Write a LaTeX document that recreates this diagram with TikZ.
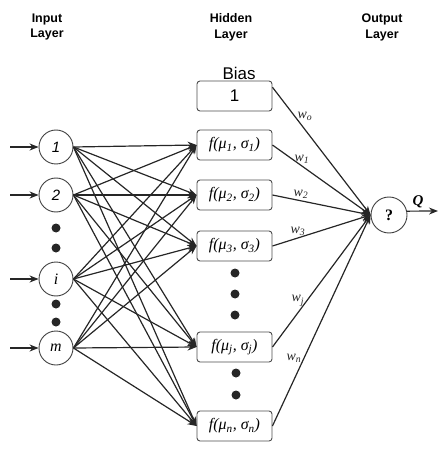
\documentclass[tikz,border=0pt]{standalone}
\usepackage{fontspec}
\setmainfont{Liberation Serif}
\setsansfont{Liberation Sans}
\usetikzlibrary{arrows.meta}
\usetikzlibrary{positioning}
\tikzstyle{inputvertex}=[circle,draw=black!75,line width=0.9bp,minimum size=34bp,inner sep=0pt]
\tikzstyle{outputvertex}=[circle,draw=black!75,line width=0.9bp,minimum size=36bp,inner sep=0pt]
\tikzstyle{hiddenbox}=[rectangle,rounded corners=3bp,draw=black!70,line width=0.9bp,minimum width=75bp,minimum height=30bp,inner sep=0pt,font=\fontsize{16}{16}\selectfont\itshape]
\tikzstyle{bigdot}=[circle,fill=black!85,minimum size=9bp,inner sep=0pt]
\tikzstyle{edge} = [draw,line width=1.2bp,black!85,-{Stealth[length=9bp,width=7bp]}]
\tikzstyle{weight} = [font=\fontsize{14}{14}\selectfont\itshape,inner sep=2bp]
\tikzstyle{layertitle} = [align=center,font=\sffamily\bfseries\fontsize{12.5}{16}\selectfont]

\begin{document}
\begin{tikzpicture}[x=1bp,y=-1bp]
    \useasboundingbox (0,0) rectangle (445,458);

    % Layer titles
    \node[layertitle] (tin) at (47,27) {Input\\Layer};
    \node[layertitle] (thid) at (231,27) {Hidden\\Layer};
    \node[layertitle] (tout) at (382,27) {Output\\Layer};

    % First we draw the input vertices
    \foreach \pos/\name/\label in {{(56,147)/I1/{\sffamily\itshape 1}}, {(56,195)/I2/{\sffamily\itshape 2}}, {(56,279)/Ii/{\fontsize{16}{16}\selectfont\itshape i}}, {(56,348)/Im/{\fontsize{16}{16}\selectfont\itshape m}}}
        \node[inputvertex,font=\fontsize{15}{15}\selectfont] (\name) at \pos {\label};

    % free ends of the input arrows
    \foreach \name/\y in {a1/147, a2/195, ai/279, am/348}
        \coordinate (\name) at (10,\y);

    % Hidden layer: bias and radial units
    \node[hiddenbox,font=\sffamily\fontsize{17}{17}\selectfont] (bias) at (234.5,96) {1};
    \node[font=\sffamily\fontsize{17}{17}\selectfont] (biaslabel) at (239,73) {Bias};
    \foreach \y/\name/\sub in {145/f1/1, 195/f2/2, 246/f3/3, 347/fj/j, 426/fn/n}
        \node[hiddenbox] (\name) at (234.5,\y) {f(μ\textsubscript{\sub}, σ\textsubscript{\sub})};

    % Dots for the skipped vertices
    \foreach \pos/\name in {{(56,228)/d1}, {(56,248)/d2}, {(56,304)/d3}, {(56,322)/d4}, {(235,273)/d5}, {(235,294)/d6}, {(235,315)/d7}, {(236,373)/d8}, {(236,395)/d9}}
        \node[bigdot] (\name) at \pos {};

    % Output vertex
    \node[outputvertex,font=\fontsize{16}{16}\selectfont\bfseries] (out) at (389,215) {?};
    \coordinate (qend) at (438,211);
    \node[font=\fontsize{15}{15}\selectfont\bfseries\itshape] (qlabel) at (418,202) {Q};

    % Connect vertices with edges
    \foreach \source/\dest in {a1/I1, a2/I2, ai/Ii, am/Im}
        \path[edge] (\source) -- (\dest.west);
    \foreach \source in {I1,I2,Ii,Im}
        \foreach \dest in {f1,f2,f3,fj,fn}
            \path[edge] (\source.east) -- (\dest.west);

    % Weighted edges into the output
    \foreach \source/\weight/\p/\anc in {bias.13/o/0.23/west, f1.east/1/0.3/south, f2.east/2/0.29/south, f3.east/3/0.26/south, fj.east/j/0.35/east, fn.east/n/0.32/east}
        \path[edge] (\source) -- node[weight,pos=\p,anchor=\anc] {w\textsubscript{\weight}} (out.west);
    \path[edge] (out.12) -- (qend);

\end{tikzpicture}
\end{document}
